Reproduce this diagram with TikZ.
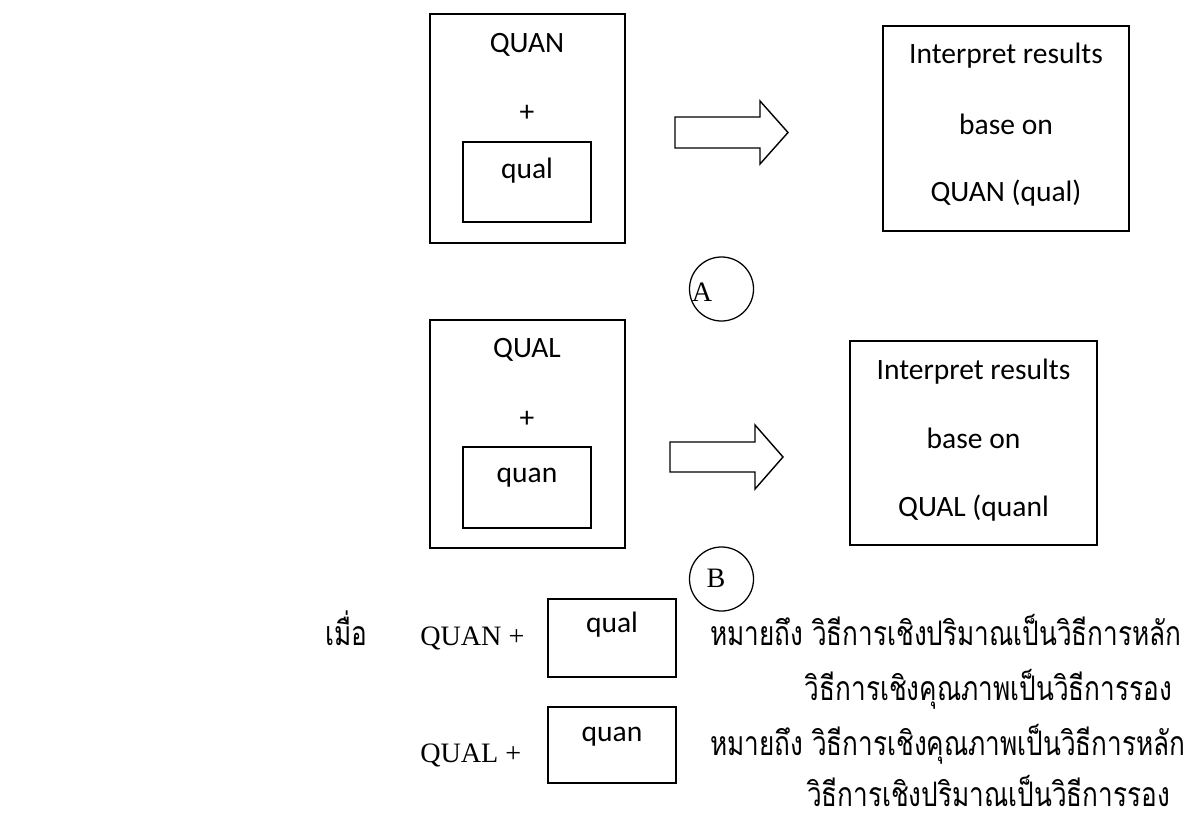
\documentclass[tikz,border=0pt]{standalone}
\usepackage{fontspec}
\setmainfont{Liberation Serif}
\newfontfamily\boxfont{Carlito}
\newfontfamily\thaifont[Script=Thai, FakeStretch=0.775]{Loma}
\usetikzlibrary{positioning}

\tikzset{
	frame/.style={draw, line width=1.2pt, inner sep=0pt},
	boxtext/.style={font=\boxfont\fontsize{21}{24}\selectfont, inner sep=0pt},
	serif/.style={font=\fontsize{20}{24}\selectfont, inner sep=0pt},
	thaitext/.style={font=\thaifont\fontsize{24}{28}\selectfont, inner sep=0pt},
	fatarrow/.style={draw, line width=1pt, line join=miter},
	tag/.style={draw, circle, line width=0.9pt, minimum size=1.6cm, inner sep=0pt}
}

\begin{document}
\begin{tikzpicture}[x=0.025cm, y=-0.025cm]
	\useasboundingbox (0,0) rectangle (1187,821);

	%Design A: QUAN + qual
	\node [frame, minimum width=4.875cm, minimum height=5.725cm] (boxA) at (527.5,128.5) {};
	\node [boxtext] (quanA) at (527,45) {QUAN};
	\node [boxtext] (plusA) at (527,113) {+};
	\node [frame, minimum width=3.2cm, minimum height=2cm] (qualA) at (527,182) {};
	\node [boxtext] (qualAtext) at (527,171) {qual};

	%Block arrow A
	\coordinate (arrA) at (675,132.5);
	\draw [fatarrow] (arrA) ++(0,-15.5) -- ++(85,0) -- ++(0,-16) -- ++(28,31.5) -- ++(-28,31.5) -- ++(0,-16) -- ++(-85,0) -- cycle;

	%Result A
	\node [frame, minimum width=6.15cm, minimum height=5.125cm] (resA) at (1006,128.5) {};
	\node [boxtext] (resA1) at (1006,56) {Interpret results};
	\node [boxtext] (resA2) at (1006,124) {base on};
	\node [boxtext] (resA3) at (1006,193) {QUAN (qual)};

	%Tag A
	\node [tag] (tagA) at (721.5,289) {};
	\node [serif] (tagAtext) at (702,292) {A};

	%Design B: QUAL + quan
	\node [frame, minimum width=4.875cm, minimum height=5.7cm] (boxB) at (527.5,434) {};
	\node [boxtext] (qualB) at (527,350) {QUAL};
	\node [boxtext] (plusB) at (527,419) {+};
	\node [frame, minimum width=3.2cm, minimum height=2.025cm] (quanB) at (527,487.5) {};
	\node [boxtext] (quanBtext) at (527,478) {quan};

	%Block arrow B
	\coordinate (arrB) at (670,457);
	\draw [fatarrow] (arrB) ++(0,-15) -- ++(85,0) -- ++(0,-17) -- ++(28,32) -- ++(-28,32) -- ++(0,-17) -- ++(-85,0) -- cycle;

	%Result B
	\node [frame, minimum width=6.175cm, minimum height=5.1cm] (resB) at (973.5,443) {};
	\node [boxtext] (resB1) at (973.5,372) {Interpret results};
	\node [boxtext] (resB2) at (973.5,438) {base on};
	\node [boxtext] (resB3) at (973.5,508) {QUAL (quanl};

	%Tag B
	\node [tag] (tagB) at (721.5,579) {};
	\node [serif] (tagBtext) at (716,578) {B};

	%Legend
	\node [thaitext, anchor=base west] (when) at (325,645) {เมื่อ};
	\node [serif, anchor=base west] (keyA) at (420,645) {QUAN +};
	\node [frame, minimum width=3.2cm, minimum height=1.95cm] (keyAbox) at (612,638) {};
	\node [boxtext] (keyAtext) at (612,625) {qual};
	\node [serif, anchor=base west] (keyB) at (420,762) {QUAL +};
	\node [frame, minimum width=3.2cm, minimum height=1.9cm] (keyBbox) at (612,745) {};
	\node [boxtext] (keyBtext) at (612,737) {quan};

	\node [thaitext, anchor=base west] (meanA1) at (710,645) {หมายถึง วิธีการเชิงปริมาณเป็นวิธีการหลัก};
	\node [thaitext, anchor=base east] (meanA2) at (1172,700) {วิธีการเชิงคุณภาพเป็นวิธีการรอง};
	\node [thaitext, anchor=base west] (meanB1) at (710,755) {หมายถึง วิธีการเชิงคุณภาพเป็นวิธีการหลัก};
	\node [thaitext, anchor=base east] (meanB2) at (1170,806) {วิธีการเชิงปริมาณเป็นวิธีการรอง};
\end{tikzpicture}
\end{document}
